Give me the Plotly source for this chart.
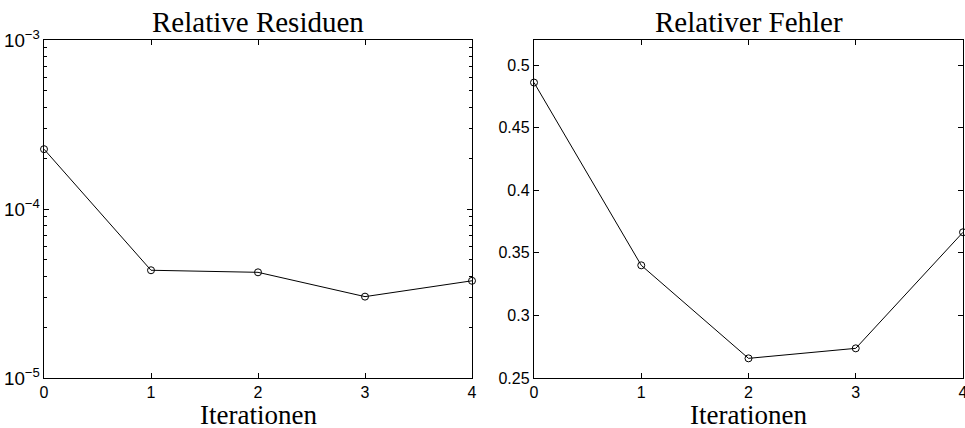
import plotly.graph_objects as go
from plotly.subplots import make_subplots

iterations = [0, 1, 2, 3, 4]
rel_residual = [2.26e-4, 4.34e-5, 4.22e-5, 3.03e-5, 3.76e-5]
rel_error = [0.486, 0.340, 0.2657, 0.2737, 0.3664]
titles = ["Relative Residuen", "Relativer Fehler"]
x_label = "Iterationen"
err_ticks = [0.25, 0.3, 0.35, 0.4, 0.45, 0.5]
err_ticktext = ["0.25", "0.3", "0.35", "0.4", "0.45", "0.5"]

W, H = 965, 428
dom_x = [[44 / W, 472 / W], [534 / W, 963 / W]]
dom_y = [1 - 378 / H, 1 - 40 / H]

fig = make_subplots(rows=1, cols=2)

line_style = dict(color="black", width=1)
marker_style = dict(symbol="circle-open", size=7, color="black", line=dict(width=1, color="black"))

fig.add_trace(go.Scatter(x=iterations, y=rel_residual, mode="lines+markers",
                         line=line_style, marker=marker_style, cliponaxis=False,
                         showlegend=False), row=1, col=1)
fig.add_trace(go.Scatter(x=iterations, y=rel_error, mode="lines+markers",
                         line=line_style, marker=marker_style, cliponaxis=False,
                         showlegend=False), row=1, col=2)

sans = "Liberation Sans, Arial, sans-serif"
serif = "Liberation Serif, Times New Roman, serif"

axis_common = dict(showline=True, linecolor="black", linewidth=1.4, mirror="ticks",
                   ticks="inside", ticklen=5, tickcolor="black", showgrid=False,
                   zeroline=False, automargin=False, ticklabeloverflow="allow")

x_font = dict(family=sans, size=16, color="black")
fig.update_xaxes(range=[0, 4], tickvals=iterations, domain=dom_x[0], tickfont=x_font,
                 ticklabelstandoff=0, row=1, col=1, **axis_common)
fig.update_xaxes(range=[0, 4], tickvals=iterations, domain=dom_x[1], tickfont=x_font,
                 ticklabelstandoff=0, row=1, col=2, **axis_common)

fig.update_yaxes(type="log", range=[-5, -3], dtick=1, exponentformat="power",
                 tickfont=dict(family=sans, size=15, color="black"), ticklabelstandoff=0,
                 minor=dict(ticks="inside", ticklen=3, tickcolor="black", dtick="D1", showgrid=False),
                 domain=dom_y, row=1, col=1, **axis_common)
fig.update_yaxes(range=[0.25, 0.52], tickvals=err_ticks, ticktext=err_ticktext,
                 tickfont=dict(family=sans, size=16, color="black"),
                 domain=dom_y, row=1, col=2, **axis_common)

for i, t in enumerate(titles):
    cx = (dom_x[i][0] + dom_x[i][1]) / 2
    fig.add_annotation(text=t, x=cx, y=dom_y[1], xref="paper", yref="paper",
                       xanchor="center", yanchor="bottom", yshift=0, showarrow=False,
                       font=dict(family=serif, size=29, color="black"))
    fig.add_annotation(text=x_label, x=cx, y=1 - 415 / H, xref="paper", yref="paper",
                       xanchor="center", yanchor="middle", showarrow=False,
                       font=dict(family=serif, size=27, color="black"))

fig.update_layout(width=W, height=H, margin=dict(l=0, r=0, t=0, b=0),
                  paper_bgcolor="white", plot_bgcolor="white")

fig.write_html("out.html")
